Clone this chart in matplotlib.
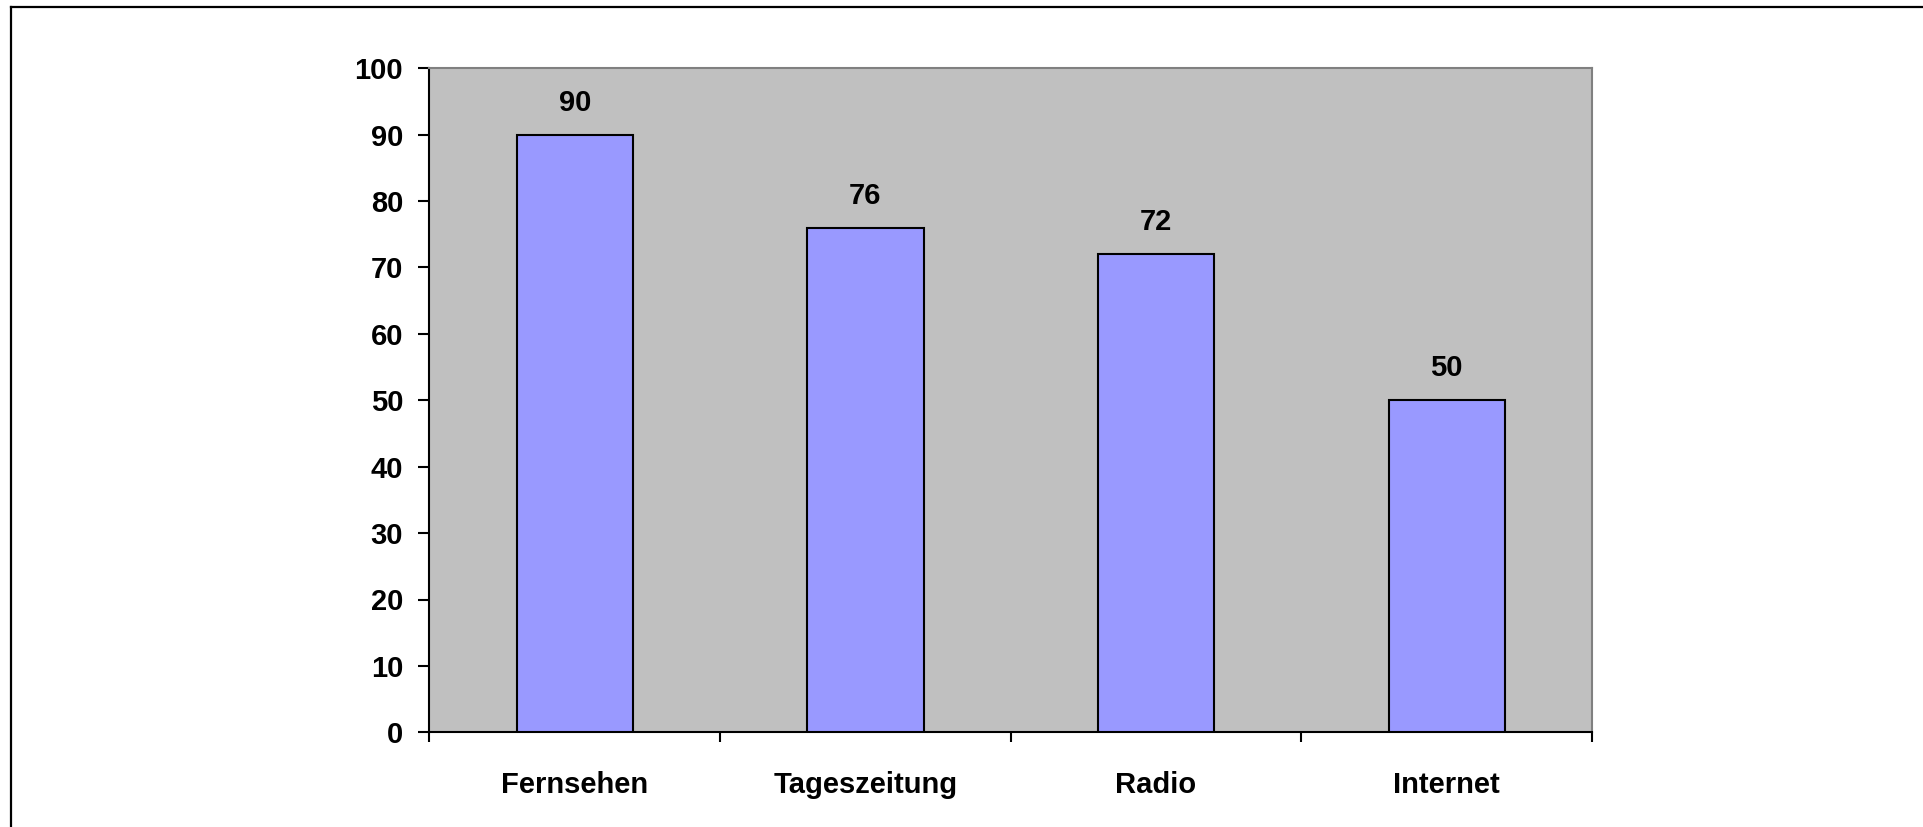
import matplotlib.pyplot as plt
from matplotlib.lines import Line2D

categories = ['Fernsehen', 'Tageszeitung', 'Radio', 'Internet']
values = [90, 76, 72, 50]
y_ticks = list(range(0, 101, 10))

plt.rcParams.update({'font.family': ['Liberation Sans', 'DejaVu Sans'],
                     'font.weight': 'bold', 'font.size': 21})

fig = plt.figure(figsize=(19.24, 8.27), dpi=100)
ax = fig.add_axes([429.5 / 1924, (827 - 732.3) / 827, 1162.5 / 1924, 664 / 827])
ax.set_facecolor('#C0C0C0')

x = list(range(len(categories)))
bars = ax.bar(x, values, width=0.4, color='#9999FF', edgecolor='black', linewidth=1.5, zorder=3)
for xi, v in zip(x, values):
    ax.annotate(str(v), (xi, v), xytext=(0, 24), textcoords='offset pixels',
                ha='center', va='baseline', fontsize=21, fontweight='bold')

ax.set_xlim(-0.5, len(categories) - 0.5)
ax.set_ylim(0, 100)
ax.set_yticks(y_ticks)
ax.set_yticklabels([str(t) for t in y_ticks])

# category ticks sit on the boundaries, labels in the middle
ax.set_xticks([i - 0.5 for i in range(len(categories) + 1)])
ax.set_xticklabels([])
ax.set_xticks(x, minor=True)
ax.set_xticklabels(categories, minor=True)
ax.tick_params(axis='x', which='major', direction='out', length=7, width=1.5)
ax.tick_params(axis='x', which='minor', length=0, pad=28)
ax.tick_params(axis='y', direction='out', length=8, width=1.5, pad=11)

for s in ['left', 'bottom']:
    ax.spines[s].set_linewidth(1.5)
    ax.spines[s].set_color('black')
for s in ['top', 'right']:
    ax.spines[s].set_linewidth(1.5)
    ax.spines[s].set_color('#808080')

# outer frame (only left and top edges visible)
fig.add_artist(Line2D([11 / 1924, 11 / 1924], [0, 1 - 7 / 827], color='black', lw=1.6))
fig.add_artist(Line2D([11 / 1924, 1], [1 - 7 / 827, 1 - 7 / 827], color='black', lw=1.6))

plt.savefig('out.png', dpi=100)
plt.close()
